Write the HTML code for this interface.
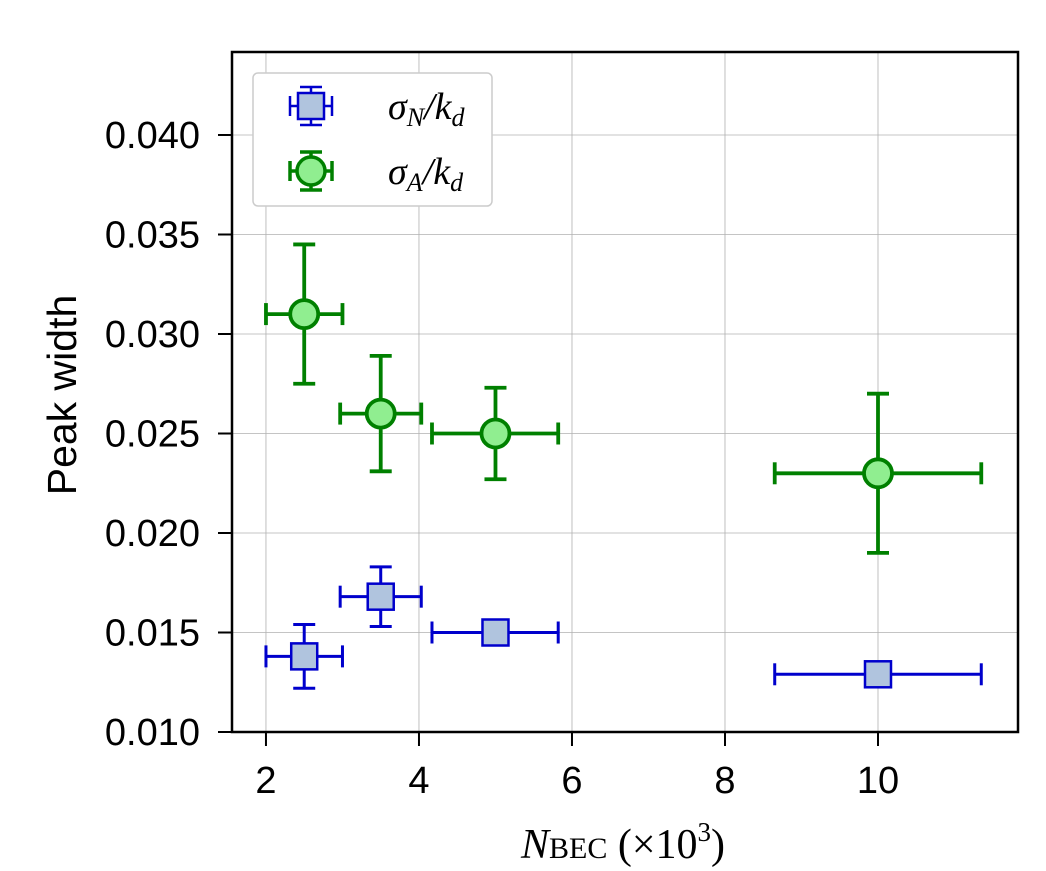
<!DOCTYPE html>
<html><head><meta charset="utf-8"><style>
body{margin:0;background:#fff;}
svg{display:block;font-family:"Liberation Sans",sans-serif;}
</style></head><body>
<svg id="chart" width="1046" height="871">
<g id="grid"></g>
<g id="series"></g>
<rect x="232" y="52" width="786" height="680" fill="none" stroke="#000" stroke-width="2.5"/>
<g id="ticks"></g>
<text x="76" y="395" font-size="41" text-anchor="middle" transform="rotate(-90 76 395)">Peak width</text>
<text x="623" y="858" font-size="42" text-anchor="middle" font-family="Liberation Serif,serif"><tspan font-style="italic">N</tspan><tspan font-size="30">BEC</tspan> (×10<tspan font-size="27" dy="-17">3</tspan><tspan dy="17">)</tspan></text>
<g>
<rect x="253" y="73" width="239" height="133" rx="5" fill="#fff" stroke="#ccc" stroke-width="1.5"/>
<g>
<line x1="311" y1="87" x2="311" y2="125" stroke="#0000cc" stroke-width="2.5"/><line x1="300" y1="87" x2="322" y2="87" stroke="#0000cc" stroke-width="2.5"/><line x1="300" y1="125" x2="322" y2="125" stroke="#0000cc" stroke-width="2.5"/>
<line x1="290" y1="106" x2="332" y2="106" stroke="#0000cc" stroke-width="2.5"/><line x1="290" y1="96" x2="290" y2="116" stroke="#0000cc" stroke-width="2.5"/><line x1="332" y1="96" x2="332" y2="116" stroke="#0000cc" stroke-width="2.5"/>
<rect x="298" y="93" width="26" height="26" fill="#b0c4de" stroke="#0000cc" stroke-width="2.5"/>
<text x="388" y="119" font-size="38" font-family="Liberation Serif,serif" font-style="italic">σ<tspan font-size="26" dy="7">N</tspan><tspan dy="-7">/k</tspan><tspan font-size="26" dy="7">d</tspan></text></g>
<g>
<line x1="311" y1="152" x2="311" y2="190" stroke="#008000" stroke-width="3.5"/><line x1="300" y1="152" x2="322" y2="152" stroke="#008000" stroke-width="3.5"/><line x1="300" y1="190" x2="322" y2="190" stroke="#008000" stroke-width="3.5"/>
<line x1="290" y1="171" x2="332" y2="171" stroke="#008000" stroke-width="3.5"/><line x1="290" y1="161" x2="290" y2="181" stroke="#008000" stroke-width="3.5"/><line x1="332" y1="161" x2="332" y2="181" stroke="#008000" stroke-width="3.5"/>
<circle cx="311" cy="171" r="14" fill="#90ee90" stroke="#008000" stroke-width="3.5"/>
<text x="388" y="184" font-size="38" font-family="Liberation Serif,serif" font-style="italic">σ<tspan font-size="26" dy="7">A</tspan><tspan dy="-7">/k</tspan><tspan font-size="26" dy="7">d</tspan></text></g>
</g>
</svg>
<script>
const xTicks=[2,4,6,8,10];
const yTicks=[0.010,0.015,0.020,0.025,0.030,0.035,0.040];
const yTickLabels=["0.010","0.015","0.020","0.025","0.030","0.035","0.040"];
const nbec=[2.5,3.5,5,10];
const xErrLo=[2.0,2.97,4.17,8.65];
const xErrHi=[3.0,4.03,5.82,11.35];
const sigmaA=[0.031,0.026,0.025,0.023];
const sigmaAErr=[0.0035,0.0029,0.0023,0.004];
const sigmaN=[0.0138,0.0168,0.015,0.0129];
const sigmaNErr=[0.0016,0.0015,0,0];
const NS="http://www.w3.org/2000/svg";
const X0=232,X1=1018,Y0=732,Y1=52,xmin=1.556,xmax=11.83,ymin=0.010,ymax=0.04417;
const sx=v=>X0+(v-xmin)/(xmax-xmin)*(X1-X0);
const sy=v=>Y0-(v-ymin)/(ymax-ymin)*(Y0-Y1);
function mk(tag,attrs,parent){const e=document.createElementNS(NS,tag);for(const k in attrs)e.setAttribute(k,attrs[k]);parent.appendChild(e);return e;}
const grid=document.getElementById('grid'),ticks=document.getElementById('ticks'),ser=document.getElementById('series');
xTicks.forEach(t=>{const x=sx(t);
 const g=mk('line',{x1:x,x2:x,y1:Y1,y2:Y0,stroke:'#b0b0b0','stroke-width':0.8},grid);
 
 
 mk('line',{x1:x,x2:x,y1:Y0,y2:Y0+14,stroke:'#000','stroke-width':2},ticks);
 const tx=mk('text',{x:x,y:Y0+61,'font-size':38,'text-anchor':'middle'},ticks);tx.textContent=t;
 
 });
yTicks.forEach((t,i)=>{const y=sy(t);
 const g=mk('line',{x1:X0,x2:X1,y1:y,y2:y,stroke:'#b0b0b0','stroke-width':0.8},grid);
 
 
 mk('line',{x1:X0-14,x2:X0,y1:y,y2:y,stroke:'#000','stroke-width':2},ticks);
 const tx=mk('text',{x:X0-32,y:y+13,'font-size':38,'text-anchor':'end'},ticks);tx.textContent=yTickLabels[i];
 
 });
function errbar(i,yv,ye,col,w,cap){
 const x=sx(nbec[i]),y=sy(yv);
 const a={stroke:col,'stroke-width':w};
 mk('line',Object.assign({x1:sx(xErrLo[i]),x2:sx(xErrHi[i]),y1:y,y2:y},a),ser);
 mk('line',Object.assign({x1:sx(xErrLo[i]),x2:sx(xErrLo[i]),y1:y-cap,y2:y+cap},a),ser);
 mk('line',Object.assign({x1:sx(xErrHi[i]),x2:sx(xErrHi[i]),y1:y-cap,y2:y+cap},a),ser);
 if(ye>0){const ya=sy(yv+ye),yb=sy(yv-ye);
  mk('line',Object.assign({x1:x,x2:x,y1:ya,y2:yb},a),ser);
  mk('line',Object.assign({x1:x-cap,x2:x+cap,y1:ya,y2:ya},a),ser);
  mk('line',Object.assign({x1:x-cap,x2:x+cap,y1:yb,y2:yb},a),ser);}
}
nbec.forEach((v,i)=>{
 errbar(i,sigmaA[i],sigmaAErr[i],'#008000',3.8,11);
 const c=mk('circle',{cx:sx(v),cy:sy(sigmaA[i]),r:14,fill:'#90ee90',stroke:'#008000','stroke-width':3.8},ser);
 
 
 errbar(i,sigmaN[i],sigmaNErr[i],'#0000cc',3,11);
 const r=mk('rect',{x:sx(v)-13,y:sy(sigmaN[i])-13,width:26,height:26,fill:'#b0c4de',stroke:'#0000cc','stroke-width':2.5},ser);
 
 
});
</script>
</body></html>
